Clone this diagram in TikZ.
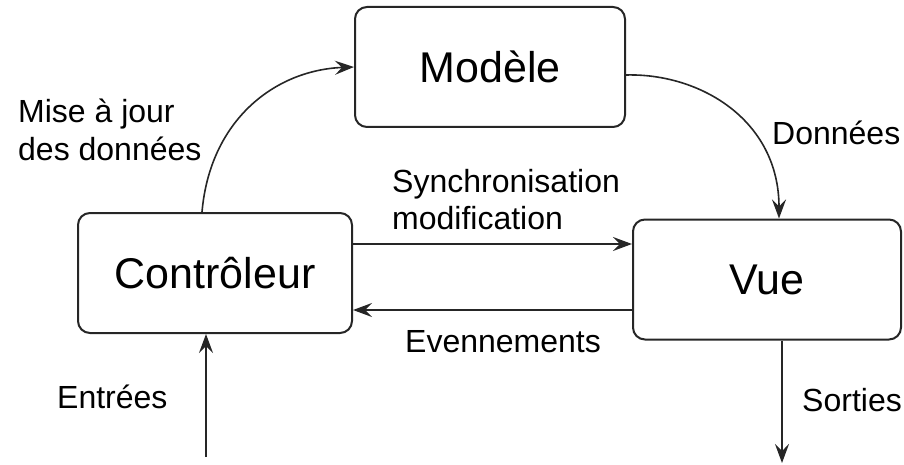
\documentclass[tikz,border=0pt]{standalone}
\usepackage{fontspec}
\setmainfont{Liberation Sans}
\usetikzlibrary{arrows.meta}
\begin{document}
\begin{tikzpicture}[x=1pt,y=-1pt,
  box/.style={draw=black!85, line width=2pt, rounded corners=12pt,
    minimum width=#1, minimum height=120pt, inner sep=0pt,
    font=\fontsize{43}{50}\selectfont},
  lbl/.style={anchor=base west, inner sep=0pt, font=\fontsize{32}{38}\selectfont},
  link/.style={draw=black!85, line width=1.6pt,
    -{Stealth[length=19pt,width=14pt,inset=7pt]}}]
\useasboundingbox (0,0) rectangle (904,465);

% the three components
\node[box=270pt] (mod)  at (490,67)    {Modèle};
\node[box=274pt] (ctrl) at (215,273)   {Contrôleur};
\node[box=268pt] (vue)  at (767,279.5) {Vue};

% free ends of the input and output flows
\coordinate (in)  at (206,457);
\coordinate (out) at (782,463);

% flows between components
\draw[link] ([xshift=-13pt]ctrl.north) .. controls (210,120) and (275,70) .. (mod.west);
\draw[link] ([yshift=-8pt]mod.east) .. controls (700,73) and (779,120) .. ([xshift=12pt]vue.north);
\draw[link] ([yshift=29pt]ctrl.east) -- ([yshift=35.5pt]vue.west);
\draw[link] ([yshift=-30.5pt]vue.west) -- ([yshift=-37pt]ctrl.east);
\draw[link] (in) -- (in |- ctrl.south);
\draw[link] (out |- vue.south) -- (out);

% labels
\node[lbl] (majA) at (18,123)  {Mise à jour};
\node[lbl] (majB) at (18,161)  {des données};
\node[lbl] (don)  at (772,145) {Données};
\node[lbl] (syA)  at (392,193) {Synchronisation};
\node[lbl] (syB)  at (392,229) {modification};
\node[lbl] (evt)  at (405,352) {Evennements};
\node[lbl] (ent)  at (57,408)  {Entrées};
\node[lbl] (sor)  at (802,411) {Sorties};
\end{tikzpicture}
\end{document}
